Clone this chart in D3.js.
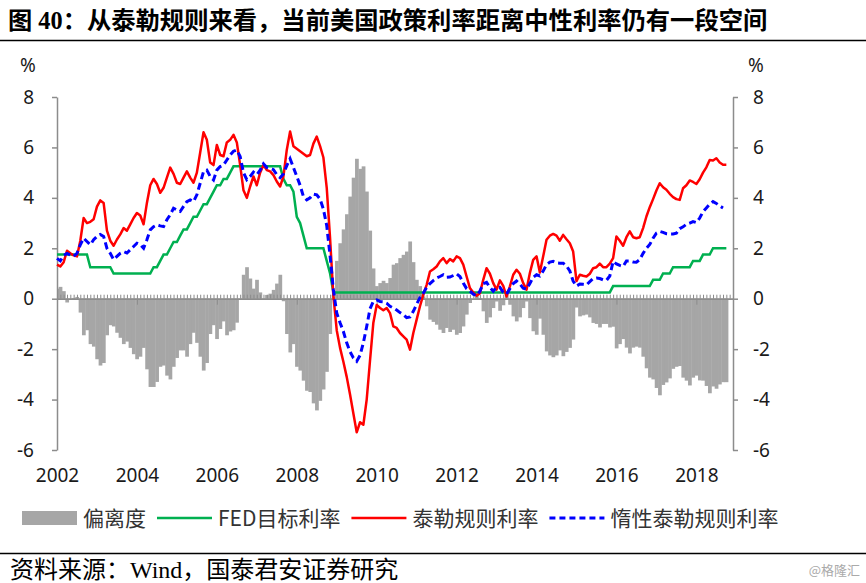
<!DOCTYPE html>
<html>
<head>
<meta charset="utf-8">
<script src="https://cdn.jsdelivr.net/npm/d3@7"></script>
<style>
  body { margin: 0; background: #fff; }
  svg { display: block; }
</style>
</head>
<body>
<svg id="chart" width="866" height="583"></svg>
<script>
// monthly values, Jan 2002 .. Oct 2018 (one row per year)
var fedRate = [
  1.75,1.75,1.75,1.75,1.75,1.75,1.75,1.75,1.75,1.75,1.25,1.25,
  1.25,1.25,1.25,1.25,1.25,1.00,1.00,1.00,1.00,1.00,1.00,1.00,
  1.00,1.00,1.00,1.00,1.00,1.25,1.25,1.50,1.75,1.75,2.00,2.25,
  2.25,2.50,2.75,2.75,3.00,3.25,3.25,3.50,3.75,3.75,4.00,4.25,
  4.50,4.50,4.75,4.75,5.00,5.25,5.25,5.25,5.25,5.25,5.25,5.25,
  5.25,5.25,5.25,5.25,5.25,5.25,5.25,5.25,4.75,4.50,4.50,4.25,
  3.25,3.00,2.50,2.00,2.00,2.00,2.00,2.00,2.00,1.50,1.00,0.25,
  0.25,0.25,0.25,0.25,0.25,0.25,0.25,0.25,0.25,0.25,0.25,0.25,
  0.25,0.25,0.25,0.25,0.25,0.25,0.25,0.25,0.25,0.25,0.25,0.25,
  0.25,0.25,0.25,0.25,0.25,0.25,0.25,0.25,0.25,0.25,0.25,0.25,
  0.25,0.25,0.25,0.25,0.25,0.25,0.25,0.25,0.25,0.25,0.25,0.25,
  0.25,0.25,0.25,0.25,0.25,0.25,0.25,0.25,0.25,0.25,0.25,0.25,
  0.25,0.25,0.25,0.25,0.25,0.25,0.25,0.25,0.25,0.25,0.25,0.25,
  0.25,0.25,0.25,0.25,0.25,0.25,0.25,0.25,0.25,0.25,0.25,0.50,
  0.50,0.50,0.50,0.50,0.50,0.50,0.50,0.50,0.50,0.50,0.50,0.75,
  0.75,0.75,1.00,1.00,1.00,1.25,1.25,1.25,1.25,1.25,1.25,1.50,
  1.50,1.50,1.75,1.75,1.75,2.00,2.00,2.00,2.00,2.00
]
var taylorRate = [
  1.35,1.28,1.45,1.90,1.80,1.72,1.68,2.30,3.20,3.00,3.05,3.15,
  3.65,3.90,3.80,2.70,2.30,2.10,2.35,2.55,2.80,2.70,2.95,3.20,
  3.40,3.30,2.95,3.80,4.50,4.75,4.55,4.20,4.40,4.80,5.20,4.95,
  4.60,4.55,4.80,5.05,4.80,4.60,5.00,5.80,6.60,6.30,5.40,5.30,
  6.10,5.70,5.65,6.20,6.30,6.50,6.20,5.30,4.30,4.00,4.45,4.85,
  4.50,5.00,5.30,5.10,5.05,4.90,4.65,4.45,4.85,5.90,6.63,6.05,
  5.95,5.85,5.75,5.65,5.70,6.15,6.43,6.05,5.60,4.40,2.40,0.10,
  -1.25,-1.95,-2.50,-3.10,-3.80,-4.55,-5.30,-4.90,-5.00,-4.00,-2.45,-0.95,
  -0.25,-0.37,-0.46,-0.37,-0.57,-1.10,-1.16,-1.36,-1.49,-1.62,-2.02,-1.36,
  -0.83,-0.30,0.16,0.55,1.08,1.17,1.28,1.48,1.61,1.41,1.57,1.48,
  1.68,1.61,1.35,0.88,0.42,0.25,0.12,0.22,0.75,1.21,0.99,0.62,
  0.36,0.73,0.51,0.09,0.49,0.95,1.15,0.99,0.62,0.36,1.02,1.54,
  1.68,1.04,1.68,2.34,2.50,2.57,2.50,2.30,2.53,2.36,2.20,1.87,
  0.70,0.95,0.91,0.88,0.99,1.21,1.25,1.39,1.25,1.25,1.39,1.61,
  2.47,2.30,2.10,2.44,2.67,2.44,2.40,2.44,2.80,3.26,3.63,3.95,
  4.29,4.58,4.42,4.32,4.16,4.03,3.95,3.92,4.38,4.50,4.69,4.63,
  4.55,4.74,5.00,5.21,5.50,5.48,5.57,5.40,5.31,5.31
]
var inertialRate = [
  1.60,1.50,1.72,1.80,1.74,1.68,1.80,2.14,2.40,2.27,2.14,2.34,
  2.47,2.55,2.47,2.00,1.80,1.55,1.68,1.80,1.87,1.81,1.94,2.07,
  2.20,2.14,2.00,2.34,2.73,2.86,2.93,2.89,2.86,3.13,3.33,3.59,
  3.52,3.46,3.66,3.85,3.92,3.85,4.12,4.58,5.04,5.10,4.85,4.71,
  5.10,5.24,5.30,5.50,5.70,5.85,5.90,5.64,5.00,4.72,4.85,5.02,
  4.92,5.10,5.35,5.20,5.17,5.12,4.92,4.80,4.95,5.28,5.55,5.20,
  4.85,4.50,4.05,3.92,4.00,4.15,4.12,3.95,3.55,2.90,1.70,0.36,
  -0.57,-0.95,-1.30,-1.75,-2.10,-2.35,-2.48,-2.25,-1.75,-1.10,-0.40,-0.10,
  -0.05,-0.11,-0.12,-0.18,-0.30,-0.37,-0.45,-0.55,-0.63,-0.75,-0.72,-0.50,
  -0.22,0.05,0.22,0.45,0.60,0.72,0.82,0.88,0.95,0.85,0.86,0.92,
  0.99,0.88,0.62,0.40,0.30,0.18,0.12,0.30,0.60,0.65,0.45,0.30,
  0.45,0.45,0.25,0.18,0.40,0.60,0.70,0.58,0.42,0.38,0.60,0.85,
  0.95,0.90,1.10,1.35,1.45,1.48,1.42,1.41,1.41,1.30,1.10,0.70,
  0.50,0.58,0.57,0.55,0.68,0.80,0.82,0.80,0.75,0.73,0.90,1.48,
  1.38,1.32,1.28,1.50,1.50,1.46,1.45,1.55,1.80,2.00,2.15,2.40,
  2.60,2.67,2.63,2.58,2.57,2.57,2.60,2.78,2.85,2.95,3.00,3.06,
  3.02,3.20,3.45,3.60,3.75,3.85,3.78,3.68,3.60,null
]
var deviation = [
  0.40,0.47,0.30,-0.15,-0.05,0.03,0.07,-0.55,-1.45,-1.25,-1.80,-1.90,
  -2.40,-2.65,-2.55,-1.45,-1.05,-1.10,-1.35,-1.55,-1.80,-1.70,-1.95,-2.20,
  -2.40,-2.30,-1.95,-2.80,-3.50,-3.50,-3.30,-2.70,-2.65,-3.05,-3.20,-2.70,
  -2.35,-2.05,-2.05,-2.30,-1.80,-1.35,-1.75,-2.30,-2.85,-2.55,-1.40,-1.05,
  -1.60,-1.20,-0.90,-1.45,-1.30,-1.25,-0.95,-0.05,0.95,1.25,0.80,0.40,
  0.75,0.25,-0.05,0.15,0.20,0.35,0.60,0.95,-0.10,-1.40,-2.13,-1.80,
  -2.70,-2.85,-3.25,-3.65,-3.70,-4.15,-4.43,-4.05,-3.60,-2.90,-1.40,0.15,
  1.50,2.20,2.75,3.35,4.05,4.80,5.55,5.15,5.25,4.25,2.70,1.20,
  0.50,0.62,0.71,0.62,0.82,1.35,1.41,1.61,1.74,1.87,2.27,1.45,
  0.75,0.50,0.09,-0.30,-0.83,-0.92,-1.03,-1.23,-1.36,-1.16,-1.32,-1.23,
  -1.43,-1.36,-1.10,-0.63,-0.17,0.00,0.13,0.03,-0.50,-0.96,-0.74,-0.37,
  -0.11,-0.48,-0.26,0.16,-0.24,-0.70,-0.90,-0.74,-0.37,-0.11,-0.77,-1.29,
  -1.43,-0.79,-1.43,-2.09,-2.25,-2.32,-2.25,-2.05,-2.28,-2.11,-1.95,-1.62,
  -0.35,-0.70,-0.66,-0.63,-0.74,-0.96,-1.00,-1.14,-1.00,-1.00,-1.14,-1.11,
  -1.97,-1.80,-1.60,-1.94,-2.17,-1.94,-1.90,-1.94,-2.30,-2.76,-3.13,-3.20,
  -3.54,-3.83,-3.42,-3.32,-3.16,-2.78,-2.70,-2.67,-3.13,-3.25,-3.44,-3.13,
  -3.05,-3.24,-3.25,-3.46,-3.75,-3.48,-3.57,-3.40,-3.31,-3.31
]
var yearLabels = ['2002','2004','2006','2008','2010','2012','2014','2016','2018']
var yTicks = [-6, -4, -2, 0, 2, 4, 6, 8]
var legendNames = ['偏离度', 'FED目标利率', '泰勒规则利率', '惰性泰勒规则利率']

var titleText = '图 40：从泰勒规则来看，当前美国政策利率距离中性利率仍有一段空间'
var sourceText = '资料来源：Wind，国泰君安证券研究'

var svg = d3.select('#chart')
var plot = { left: 57, right: 733, top: 97, bottom: 450 }
var axisColor = '#8c8c8c'
var colors = { bar: '#a6a6a6', fed: '#00b050', taylor: '#ff0000', inertial: '#0000ff' }

var x = d3.scaleLinear().domain([0, 203]).range([plot.left, plot.right])
var y = d3.scaleLinear().domain([-6, 8]).range([plot.bottom, plot.top])

svg.append('rect').attr('width', 866).attr('height', 583).attr('fill', '#fff')

// title + rules
svg.append('text')
  .attr('x', 8).attr('y', 29)
  .style('font-family', "'Liberation Serif','Noto Sans CJK SC',serif")
  .style('font-weight', 'bold')
  .style('font-size', '24.3px')
  .text(titleText)
svg.append('line').attr('x1', 0).attr('x2', 866).attr('y1', 40.5).attr('y2', 40.5)
  .attr('stroke', '#000').attr('stroke-width', 1.5)
svg.append('line').attr('x1', 0).attr('x2', 866).attr('y1', 553.5).attr('y2', 553.5)
  .attr('stroke', '#000').attr('stroke-width', 1.5)

svg.append('defs').append('clipPath').attr('id', 'clip')
  .append('rect').attr('x', plot.left).attr('y', plot.top)
  .attr('width', plot.right - plot.left).attr('height', plot.bottom - plot.top)

// bars
var bw = x(1) - x(0)
svg.append('g').attr('clip-path', 'url(#clip)')
  .selectAll('rect').data(deviation).enter().append('rect')
  .attr('x', (d, i) => x(i) - bw / 2)
  .attr('width', bw + 0.4)
  .attr('y', d => y(Math.max(0, d)))
  .attr('height', d => Math.abs(y(d) - y(0)))
  .attr('fill', colors.bar)

// left / right axes
var tickFont = "'Noto Sans',sans-serif"
var yl = svg.append('g').attr('transform', 'translate(' + plot.left + ',0)')
  .call(d3.axisLeft(y).tickValues(yTicks).tickSize(5).tickSizeOuter(0).tickPadding(18).tickFormat(d => String(d)))
var yr = svg.append('g').attr('transform', 'translate(' + plot.right + ',0)')
  .call(d3.axisRight(y).tickValues(yTicks).tickSize(5).tickSizeOuter(0).tickPadding(15).tickFormat(d => String(d)))
;[yl, yr].forEach(g => {
  g.select('.domain').attr('stroke', axisColor).attr('stroke-width', 1.5)
  g.selectAll('.tick line').attr('stroke', axisColor).attr('stroke-width', 1.5)
  g.selectAll('.tick text').attr('fill', '#1a1a1a').style('font-family', tickFont).style('font-size', '19px')
})

// zero axis: minor ticks every month (inside), major every two years (outside)
var xz = svg.append('g').attr('transform', 'translate(0,' + y(0) + ')')
xz.append('g').call(d3.axisBottom(x).tickValues(d3.range(0, 204)).tickSize(-4).tickSizeOuter(0).tickFormat(''))
xz.append('g').call(d3.axisBottom(x).tickValues(d3.range(0, 193, 24)).tickSize(6).tickSizeOuter(0).tickFormat(''))
xz.selectAll('.domain').attr('stroke', axisColor).attr('stroke-width', 1.5)
xz.selectAll('.tick line').attr('stroke', axisColor).attr('stroke-width', 1)

// year labels at the bottom
var xl = svg.append('g').attr('transform', 'translate(0,' + plot.bottom + ')')
  .call(d3.axisBottom(x).tickValues(d3.range(0, 193, 24)).tickSize(0).tickPadding(19)
    .tickFormat((d, i) => yearLabels[i]))
xl.select('.domain').remove()
xl.selectAll('.tick text').attr('fill', '#1a1a1a').style('font-family', tickFont).style('font-size', '19px')

// lines
function lineFor(arr) {
  return d3.line().defined(d => d != null).x((d, i) => x(i)).y(d => y(d))(arr)
}
svg.append('path').attr('d', lineFor(fedRate)).attr('fill', 'none')
  .attr('stroke', colors.fed).attr('stroke-width', 2.5)
svg.append('path').attr('d', lineFor(taylorRate)).attr('fill', 'none')
  .attr('stroke', colors.taylor).attr('stroke-width', 2.5).attr('stroke-linejoin', 'round')
svg.append('path').attr('d', lineFor(inertialRate)).attr('fill', 'none')
  .attr('stroke', colors.inertial).attr('stroke-width', 3).attr('stroke-dasharray', '7,4')

// % units
svg.append('text').attr('x', 20).attr('y', 72).text('%')
  .style('font-family', tickFont).style('font-size', '19px').attr('fill', '#1a1a1a')
svg.append('text').attr('x', 748).attr('y', 72).text('%')
  .style('font-family', tickFont).style('font-size', '19px').attr('fill', '#1a1a1a')

// legend
var lg = svg.append('g').attr('transform', 'translate(0,518)')
var cx = 22
legendNames.forEach((name, i) => {
  if (i === 0) {
    lg.append('rect').attr('x', cx).attr('y', -7).attr('width', 55).attr('height', 14).attr('fill', colors.bar)
  } else {
    var c = [null, colors.fed, colors.taylor, colors.inertial][i]
    lg.append('line').attr('x1', cx).attr('x2', cx + 55).attr('y1', 0).attr('y2', 0)
      .attr('stroke', c).attr('stroke-width', i === 3 ? 3 : 2.5)
      .attr('stroke-dasharray', i === 3 ? '6,4' : null)
  }
  var t = lg.append('text').attr('x', cx + 61).attr('y', 7.5).text(name)
    .style('font-family', "'Noto Sans CJK SC',sans-serif").style('font-size', '21px').attr('fill', '#333')
  cx = cx + 61 + t.node().getComputedTextLength() + 11
})

// source + watermark
svg.append('text').attr('x', 10).attr('y', 578)
  .style('font-family', "'Liberation Serif','Noto Sans CJK SC',serif").style('font-size', '24px')
  .text(sourceText)
svg.append('text').attr('x', 860).attr('y', 575).attr('text-anchor', 'end')
  .style('font-family', "'Noto Sans CJK SC',sans-serif").style('font-size', '13px').attr('fill', '#aaa')
  .text('@格隆汇')
</script>
</body>
</html>
